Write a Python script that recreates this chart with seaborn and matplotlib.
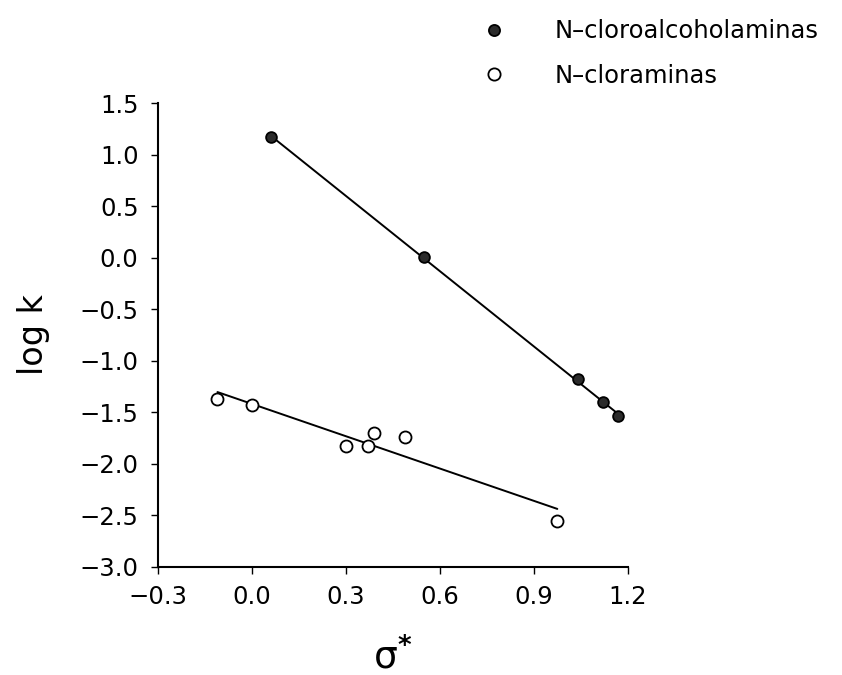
import matplotlib
matplotlib.use("Agg")
import matplotlib.pyplot as plt
from matplotlib.lines import Line2D
import numpy as np
import pandas as pd
import seaborn as sns

# sigma* substituent constants and rate constants (log k)
alcohol_sigma = [0.06, 0.55, 1.04, 1.12, 1.17]
alcohol_logk = [1.17, 0.01, -1.18, -1.40, -1.54]

amine_sigma = [-0.11, 0.00, 0.30, 0.37, 0.39, 0.49, 0.975]
amine_logk = [-1.37, -1.43, -1.83, -1.83, -1.70, -1.74, -2.55]

series_names = ["N–cloroalcoholaminas", "N–cloraminas"]
x_ticks = [-0.3, 0.0, 0.3, 0.6, 0.9, 1.2]
y_ticks = [1.5, 1.0, 0.5, 0.0, -0.5, -1.0, -1.5, -2.0, -2.5, -3.0]

sns.set_theme(style="ticks")
plt.rcParams["font.family"] = ["DejaVu Sans"]
plt.rcParams["mathtext.fontset"] = "dejavusans"
plt.rcParams["text.color"] = "black"

alcohols = pd.DataFrame({"sigma": alcohol_sigma, "logk": alcohol_logk})
amines = pd.DataFrame({"sigma": amine_sigma, "logk": amine_logk})

fig = plt.figure(figsize=(8.42, 6.75), dpi=100)
ax = fig.add_axes([0.1876, 0.160, 0.558, 0.6874])

line_kws = dict(color="black", lw=1.4)
sns.regplot(data=alcohols, x="sigma", y="logk", ax=ax, ci=None, truncate=True,
            scatter_kws=dict(s=60, facecolor="#2b2b2b", edgecolor="black",
                             linewidths=1.3, alpha=1, zorder=3),
            line_kws=line_kws)
sns.regplot(data=amines, x="sigma", y="logk", ax=ax, ci=None, truncate=True,
            scatter_kws=dict(s=75, facecolor="white", edgecolor="black",
                             linewidths=1.3, alpha=1, zorder=3),
            line_kws=line_kws)

ax.set_xlim(-0.3, 1.2)
ax.set_ylim(-3.0, 1.5)
ax.set_xticks(x_ticks)
ax.set_xticklabels([f"{v:.1f}".replace("-", "−") for v in x_ticks])
ax.set_yticks(y_ticks)
ax.set_yticklabels([f"{v:.1f}".replace("-", "−") for v in y_ticks])
ax.tick_params(axis="both", direction="out", length=5, width=1.0,
               color="black", labelsize=17.5, labelcolor="black")
ax.tick_params(axis="x", pad=8)
ax.tick_params(axis="y", pad=9)

sns.despine(ax=ax)
for side in ("left", "bottom"):
    ax.spines[side].set_linewidth(1.5)
    ax.spines[side].set_color("black")

ax.set_xlabel(r"σ$^{\bf{*}}$", fontsize=27, labelpad=20, color="black")
ax.set_ylabel("log k", fontsize=24, labelpad=21, color="black")

handles = [
    Line2D([], [], ls="none", marker="o", markersize=8,
           markerfacecolor="#2b2b2b", markeredgecolor="black", markeredgewidth=1.3),
    Line2D([], [], ls="none", marker="o", markersize=8.8,
           markerfacecolor="white", markeredgecolor="black", markeredgewidth=1.3),
]
leg = fig.legend(handles, series_names, loc="upper left", bbox_to_anchor=(0.546, 1.004),
                 frameon=False, fontsize=17.5, handletextpad=2.0, labelspacing=0.85,
                 handlelength=1.0)
for t in leg.get_texts():
    t.set_color("black")

fig.savefig("out.png", dpi=100, facecolor="white")
